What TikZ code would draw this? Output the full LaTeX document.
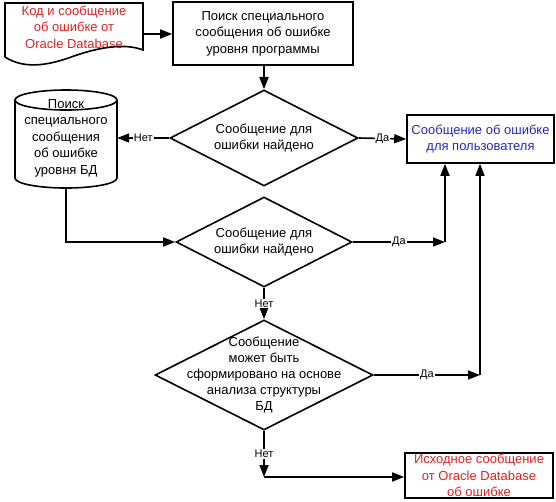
\documentclass[tikz,border=0pt]{standalone}
\usepackage{fontspec}
\setmainfont{Liberation Sans}
\usetikzlibrary{arrows.meta,shapes.geometric,calc}
\definecolor{txtred}{RGB}{220,35,35}
\definecolor{txtblue}{RGB}{40,40,190}
\tikzset{
  every picture/.style={x=1pt,y=-1pt},
  ln/.style={line width=1.6pt},
  arr/.style={ln,-{Triangle[length=12pt,width=9pt]}},
  txt/.style={align=center,font=\fontsize{13}{16.5}\selectfont,inner sep=0pt},
  boxst/.style={draw=black,ln,rectangle,inner sep=0pt,txt},
  dia/.style={draw,ln,diamond,inner sep=0pt},
  lbl/.style={fill=white,inner sep=1pt,font=\fontsize{11}{13}\selectfont},
}
\begin{document}
\begin{tikzpicture}
\fill[white] (0,0) rectangle (556,501);
\useasboundingbox (0,0) rectangle (556,501);
% document shape
\node[inner sep=0pt,minimum width=138pt,minimum height=60pt,
  label={[txt,text=txtred,yshift=7pt]center:{Код и сообщение\\об ошибке от\\Oracle Database}}] (doc) at (74,34) {};
\draw[ln] (5,57) -- (5,3) -- (143,3) -- (143,50)
  .. controls (125,43) and (100,47) .. (74,56)
  .. controls (50,65) and (25,70) .. (5,57) -- cycle;
% box 1
\node[boxst,minimum width=180pt,minimum height=63pt] (box1) at (263,33.5)
  {Поиск специального\\сообщения об ошибке\\уровня программы};
% diamonds
\node[dia,minimum width=188pt,minimum height=96pt,
  label={[txt]center:{Сообщение для\\ошибки найдено}}] (d1) at (264,138) {};
\node[dia,minimum width=176pt,minimum height=90pt,
  label={[txt]center:{Сообщение для\\ошибки найдено}}] (d2) at (264,242) {};
\node[dia,minimum width=218pt,minimum height=110pt,
  label={[txt,font=\fontsize{13}{16.2}\selectfont]center:{Сообщение\\может быть\\сформировано на основе\\анализа структуры\\БД}}] (d3) at (264,375) {};
% cylinder
\node[txt,minimum width=102pt,minimum height=100pt] (cyl) at (66,138)
  {Поиск\\специального\\сообщения\\об ошибке\\уровня БД};
\draw[ln] (15,100) -- (15,178) arc[start angle=180,end angle=360,x radius=51pt,y radius=10pt] -- (117,100);
\draw[ln] (66,100) ellipse[x radius=51pt,y radius=10pt];
% result boxes
\node[boxst,text=txtblue,minimum width=147pt,minimum height=48pt] (user) at (480.5,139)
  {Сообщение об ошибке\\для пользователя};
\node[boxst,text=txtred,minimum width=148pt,minimum height=45pt] (err) at (479,475.5)
  {Исходное сообщение\\от Oracle Database\\об ошибке};
% corners
\coordinate (c2) at (445,242);
\coordinate (c3) at (480,375);
\coordinate (c4) at (264,477);
% connectors
\draw[arr] (doc.east) -- (doc.east -| box1.west);
\draw[arr] (d1.north |- box1.south) -- (d1.north);
\draw[arr] (d1.west) -- node[lbl]{Нет} (cyl.east);
\draw[arr] (d1.east) -- node[lbl]{Да} (user.west);
\draw[arr] (cyl.south) |- (d2.west);
\draw[arr] (d2.east) -- node[lbl]{Да} (c2);
\draw[arr] (c2) -- (c2 |- user.south);
\draw[arr] (d2.south) -- node[lbl]{Нет} (d3.north);
\draw[arr] (d3.east) -- node[lbl]{Да} (c3);
\draw[arr] (c3) -- (c3 |- user.south);
\draw[arr] (d3.south) -- node[lbl]{Нет} (c4);
\draw[arr] (c4) -- (c4 -| err.west);
\end{tikzpicture}
\end{document}
